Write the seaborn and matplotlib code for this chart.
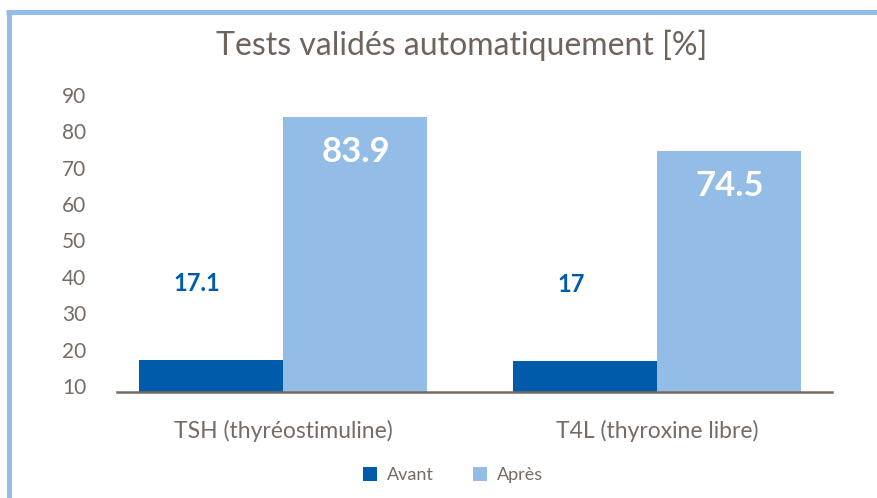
import pandas as pd
import seaborn as sns
import matplotlib.pyplot as plt
from matplotlib.lines import Line2D

tests = ['TSH (thyréostimuline)', 'T4L (thyroxine libre)']
avant = [17.1, 17]
apres = [83.9, 74.5]
periodes = ['Avant', 'Après']
yticks = [10, 20, 30, 40, 50, 60, 70, 80, 90]

couleurs = ['#005baa', '#93bde6']
gris = '#776b63'

df = pd.DataFrame({
    'test': tests * 2,
    'valeur': avant + apres,
    'periode': [periodes[0]] * len(tests) + [periodes[1]] * len(tests),
})

sns.set_style('white')
plt.rcParams['font.family'] = ['Lato', 'DejaVu Sans']

fig = plt.figure(figsize=(8.78, 4.98), dpi=100)
ax = fig.add_axes([0.1333, 0.2129, 0.8144, 0.5964])

sns.barplot(data=df, x='test', y='valeur', hue='periode', palette=couleurs,
            saturation=1, width=0.77, gap=0, linewidth=0, ax=ax, legend=False)

ax.set_ylim(8.35, 90)
ax.set_xlim(-0.445, 1.467)
ax.set_yticks(yticks)
ax.tick_params(axis='y', length=0, pad=22, labelsize=15, labelcolor=gris)
ax.tick_params(axis='x', length=0, pad=20, labelsize=16.5, labelcolor=gris)
ax.set_xlabel('')
ax.set_ylabel('')
for s in ['top', 'right', 'left']:
    ax.spines[s].set_visible(False)
ax.spines['bottom'].set_color(gris)
ax.spines['bottom'].set_linewidth(1.8)

# étiquettes "Avant" au-dessus des barres, décalées à gauche
for bar, v in zip(ax.containers[0], avant):
    x = bar.get_x() + bar.get_width() / 2 - 0.038
    ax.text(x, bar.get_height() + 21, f'{v:g}', ha='center', va='center',
            fontsize=17, fontweight='bold', color=couleurs[0])

# étiquettes "Après" en blanc dans le haut des barres
for bar, v in zip(ax.containers[1], apres):
    x = bar.get_x() + bar.get_width() / 2
    ax.text(x, bar.get_height() - 9.5, f'{v:g}', ha='center', va='center',
            fontsize=25, fontweight='bold', color='white')

fig.text(0.526, 0.909, 'Tests validés automatiquement [%]', ha='center', va='center',
         fontsize=23, color='#6f635b')

handles = [plt.Rectangle((0, 0), 1, 1, facecolor=c, edgecolor='none') for c in couleurs]
fig.legend(handles, periodes, loc='center', bbox_to_anchor=(0.516, 0.046), ncol=2,
           frameon=False, fontsize=13, labelcolor=gris, handlelength=0.78,
           handleheight=0.78, handletextpad=0.55, columnspacing=2.15)

# cadre bleu clair en haut et à gauche
fig.add_artist(Line2D([8.5 / 878, 8.5 / 878], [0, 1 - 10 / 498], transform=fig.transFigure,
                      color='#93bde6', linewidth=3.6, solid_capstyle='butt'))
fig.add_artist(Line2D([6 / 878, 1], [1 - 12 / 498, 1 - 12 / 498], transform=fig.transFigure,
                      color='#93bde6', linewidth=3.6, solid_capstyle='butt'))

fig.savefig('out.png', dpi=100)
